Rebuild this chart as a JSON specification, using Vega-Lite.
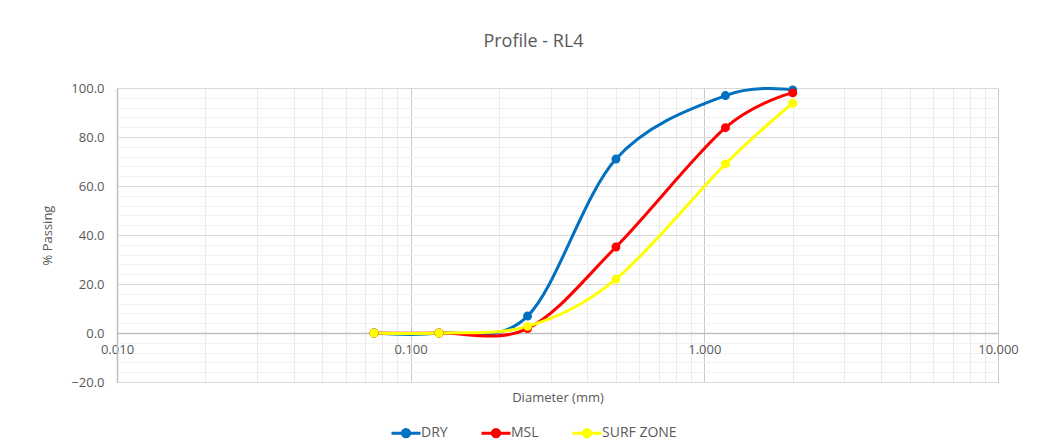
{
  "$schema": "https://vega.github.io/schema/vega-lite/v6.json",
  "width": 881,
  "height": 294,
  "autosize": "none",
  "padding": {"left": 117, "top": 88, "right": 46, "bottom": 66},
  "background": "white",
  "config": {
    "font": "Open Sans",
    "view": {"stroke": null},
    "axis": {"labelFont": "Open Sans", "titleFont": "Open Sans", "labelColor": "#595959", "titleColor": "#595959", "labelFontSize": 13, "titleFontSize": 13, "titleFontWeight": "normal"},
    "legend": {"labelFont": "Open Sans", "labelColor": "#595959", "labelFontSize": 14}
  },
  "title": {"text": "Profile - RL4", "fontSize": 18, "font": "Open Sans", "fontWeight": "normal", "color": "#595959", "anchor": "middle", "dx": -24, "offset": 31},
  "data": {
    "values": [
      {"d": 0.075, "pct": 0, "series": "DRY"},
      {"d": 0.125, "pct": 0, "series": "DRY"},
      {"d": 0.25, "pct": 6.9, "series": "DRY"},
      {"d": 0.5, "pct": 71.0, "series": "DRY"},
      {"d": 1.18, "pct": 96.9, "series": "DRY"},
      {"d": 2.0, "pct": 99.2, "series": "DRY"},
      {"d": 0.075, "pct": 0, "series": "MSL"},
      {"d": 0.125, "pct": 0, "series": "MSL"},
      {"d": 0.25, "pct": 1.8, "series": "MSL"},
      {"d": 0.5, "pct": 35.1, "series": "MSL"},
      {"d": 1.18, "pct": 83.8, "series": "MSL"},
      {"d": 2.0, "pct": 98.0, "series": "MSL"},
      {"d": 0.075, "pct": 0, "series": "SURF ZONE"},
      {"d": 0.125, "pct": 0, "series": "SURF ZONE"},
      {"d": 0.25, "pct": 2.7, "series": "SURF ZONE"},
      {"d": 0.5, "pct": 22.0, "series": "SURF ZONE"},
      {"d": 1.18, "pct": 69.0, "series": "SURF ZONE"},
      {"d": 2.0, "pct": 93.8, "series": "SURF ZONE"}
    ]
  },
  "encoding": {
    "x": {
      "field": "d", "type": "quantitative",
      "scale": {"type": "log", "domain": [0.01, 10], "nice": false},
      "axis": {
        "title": "Diameter (mm)",
        "offset": -49,
        "values": [0.01,0.02,0.03,0.04,0.05,0.06,0.07,0.08,0.09,0.1,0.2,0.3,0.4,0.5,0.6,0.7,0.8,0.9,1,2,3,4,5,6,7,8,9,10],
        "labelExpr": "abs(log(datum.value)/LN10 - round(log(datum.value)/LN10)) < 1e-6 ? format(datum.value, '.3f') : ''",
        "ticks": false,
        "labelPadding": 10,
        "titlePadding": 35,
        "domainColor": "#BFBFBF",
        "domainWidth": 1.5,
        "gridColor": {"condition": {"test": "abs(log(datum.value)/LN10 - round(log(datum.value)/LN10)) < 1e-6", "value": "#C8C8C8"}, "value": "#EBEBEB"},
        "labelFlush": false
      }
    },
    "y": {
      "field": "pct", "type": "quantitative",
      "scale": {"domain": [-20, 100], "nice": false},
      "axis": {
        "title": "% Passing",
        "values": [-20,-16,-12,-8,-4,0,4,8,12,16,20,24,28,32,36,40,44,48,52,56,60,64,68,72,76,80,84,88,92,96,100],
        "labelExpr": "datum.value % 20 === 0 ? format(datum.value, '.1f') : ''",
        "ticks": false,
        "labelPadding": 13,
        "titlePadding": 16,
        "domainColor": "#BFBFBF",
        "domainWidth": 1.5,
        "gridColor": {"condition": {"test": "datum.value % 20 === 0", "value": "#D9D9D9"}, "value": "#F0F0F0"}
      }
    },
    "color": {
      "field": "series", "type": "nominal",
      "scale": {"domain": ["DRY", "MSL", "SURF ZONE"], "range": ["#0070C0", "#FF0000", "#FFFF00"]},
      "legend": {
        "title": null,
        "orient": "none",
        "legendX": 278,
        "legendY": 334,
        "direction": "horizontal",
        "symbolType": "M-1.6,0L1.6,0M-0.4,0A0.4,0.4 0 1,1 0.4,0A0.4,0.4 0 1,1 -0.4,0Z",
        "symbolSize": 330,
        "symbolStrokeWidth": 3,
        "columnPadding": 27,
        "labelOffset": 4,
        "encode": {"symbols": {"update": {"stroke": {"scale": "color", "field": "value"}, "fill": {"scale": "color", "field": "value"}, "opacity": {"value": 1}}}}
      }
    }
  },
  "layer": [
    {"mark": {"type": "line", "interpolate": "cardinal", "strokeWidth": 3}},
    {"mark": {"type": "point", "filled": true, "size": 80, "opacity": 1}}
  ]
}
